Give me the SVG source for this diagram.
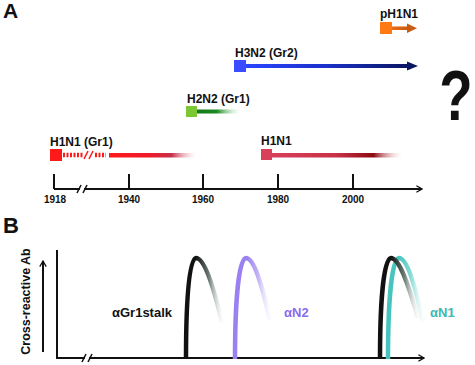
<svg xmlns="http://www.w3.org/2000/svg" width="475" height="365" viewBox="0 0 475 365">
<defs>
<style>
text{font-family:"Liberation Sans",Arial,sans-serif;font-weight:bold;}
.lbl{font-size:12px;fill:#111;}
.yr{font-size:10px;fill:#111;text-anchor:middle;}
.ax{stroke:#111;stroke-width:2;fill:none;}
.brk{stroke:#111;stroke-width:1.5;fill:none;}
.gap{fill:#fff;}
</style>
<marker id="chev" viewBox="0 0 10 10" refX="9" refY="5" markerWidth="8" markerHeight="8" markerUnits="userSpaceOnUse" orient="auto">
<path d="M2,1 L9,5 L2,9" fill="none" stroke="#111" stroke-width="1.6"/>
</marker>
<linearGradient id="gRed" x1="0" y1="0" x2="1" y2="0">
<stop offset="0" stop-color="#ff1a1a"/><stop offset="0.45" stop-color="#f01a2a"/><stop offset="0.72" stop-color="#c8304a"/><stop offset="1" stop-color="#f3b8c8" stop-opacity="0"/>
</linearGradient>
<linearGradient id="gRed2" x1="0" y1="0" x2="1" y2="0">
<stop offset="0" stop-color="#d8405a"/><stop offset="0.5" stop-color="#c83048"/><stop offset="0.78" stop-color="#8b0a10"/><stop offset="1" stop-color="#f3c0c8" stop-opacity="0"/>
</linearGradient>
<linearGradient id="gGreen" x1="0" y1="0" x2="1" y2="0">
<stop offset="0" stop-color="#147814"/><stop offset="0.45" stop-color="#1a8a20"/><stop offset="1" stop-color="#c8f0c8" stop-opacity="0"/>
</linearGradient>
<linearGradient id="gBlue" x1="0" y1="0" x2="1" y2="0">
<stop offset="0" stop-color="#2a44ff"/><stop offset="0.5" stop-color="#1a30c8"/><stop offset="1" stop-color="#0a1660"/>
</linearGradient>
<linearGradient id="gOrange" x1="0" y1="0" x2="1" y2="0">
<stop offset="0" stop-color="#ec6c10"/><stop offset="1" stop-color="#c85a12"/>
</linearGradient>
<linearGradient id="cBlack1" gradientUnits="userSpaceOnUse" x1="196" y1="0" x2="222" y2="0">
<stop offset="0" stop-color="#111"/><stop offset="0.5" stop-color="#6d7c74"/><stop offset="1" stop-color="#e8eee8" stop-opacity="0.2"/>
</linearGradient>
<linearGradient id="cPurple" gradientUnits="userSpaceOnUse" x1="246" y1="0" x2="270" y2="0">
<stop offset="0" stop-color="#9a80f0"/><stop offset="0.5" stop-color="#c2b2f6"/><stop offset="1" stop-color="#f2eefe" stop-opacity="0.2"/>
</linearGradient>
<linearGradient id="cBlack2" gradientUnits="userSpaceOnUse" x1="391" y1="0" x2="418" y2="0">
<stop offset="0" stop-color="#111"/><stop offset="0.5" stop-color="#6d7c74"/><stop offset="1" stop-color="#e8eee8" stop-opacity="0.2"/>
</linearGradient>
<linearGradient id="cTeal" gradientUnits="userSpaceOnUse" x1="399" y1="0" x2="423" y2="0">
<stop offset="0" stop-color="#48c4be"/><stop offset="0.5" stop-color="#8adcd6"/><stop offset="1" stop-color="#e4f8f6" stop-opacity="0.2"/>
</linearGradient>
</defs>
<rect width="475" height="365" fill="#fff"/>

<text x="3" y="18" style="font-size:21px" fill="#111">A</text>
<text x="3" y="233" style="font-size:22px" fill="#111">B</text>

<!-- Panel A axis -->
<g id="timeline-axis">
<line class="ax" x1="54" y1="189" x2="422" y2="189" marker-end="url(#chev)"/>
<line class="ax" x1="54" y1="174" x2="54" y2="189"/>
<line class="ax" x1="129" y1="174" x2="129" y2="189"/>
<line class="ax" x1="203" y1="174" x2="203" y2="189"/>
<line class="ax" x1="278" y1="174" x2="278" y2="189"/>
<line class="ax" x1="353" y1="174" x2="353" y2="189"/>
<rect class="gap" x="80" y="186" width="4" height="6"/>
<line class="brk" x1="77" y1="193" x2="81" y2="185"/>
<line class="brk" x1="83" y1="193" x2="87" y2="185"/>
<text class="yr" x="55" y="203">1918</text>
<text class="yr" x="129" y="203">1940</text>
<text class="yr" x="203" y="203">1960</text>
<text class="yr" x="278" y="203">1980</text>
<text class="yr" x="353" y="203">2000</text>
</g>

<g id="h1n1-gr1">
<text class="lbl" x="50" y="146">H1N1 (Gr1)</text>
<rect x="50" y="149" width="12" height="12" fill="#ff1a1a"/>
<line x1="63" y1="155" x2="83" y2="155" stroke="#ff1a1a" stroke-width="4.5" stroke-dasharray="2 1.5"/>
<line x1="95" y1="155" x2="106" y2="155" stroke="#ff1a1a" stroke-width="4.5" stroke-dasharray="2 1.5"/>
<line x1="84" y1="159" x2="88" y2="151" stroke="#ff1a1a" stroke-width="1.6"/>
<line x1="89" y1="159" x2="93" y2="151" stroke="#ff1a1a" stroke-width="1.6"/>
<rect x="109" y="153" width="87" height="4.5" fill="url(#gRed)"/>
</g>

<g id="h2n2-gr1">
<text class="lbl" x="187" y="103">H2N2 (Gr1)</text>
<rect x="186" y="106" width="11" height="11" fill="#7cc832"/>
<rect x="197" y="109.5" width="44" height="4" fill="url(#gGreen)"/>
</g>

<g id="h3n2-gr2">
<text class="lbl" x="235" y="57">H3N2 (Gr2)</text>
<rect x="234" y="60" width="12" height="12" fill="#3a4cff"/>
<rect x="246" y="64" width="163" height="4" fill="url(#gBlue)"/>
<polygon points="407,61.5 418,66 407,70.5" fill="#0a1660"/>
</g>

<g id="ph1n1">
<text class="lbl" x="380" y="18">pH1N1</text>
<rect x="380" y="22" width="12" height="12" fill="#ff7a12"/>
<rect x="392" y="26.5" width="16" height="3.5" fill="url(#gOrange)"/>
<polygon points="407,23.5 417,28.2 407,33" fill="#c85a12"/>
</g>

<g id="h1n1">
<text class="lbl" x="261" y="145">H1N1</text>
<rect x="261" y="149" width="11" height="11" fill="#d8405a"/>
<rect x="272" y="153" width="130" height="4.5" fill="url(#gRed2)"/>
</g>

<g id="question">
<text x="0" y="120" transform="translate(456,0) scale(0.78,1)" style="font-size:70px" fill="#111" text-anchor="middle">?</text>
</g>

<!-- Panel B -->
<g id="ab-axes">
<line class="ax" x1="57" y1="250" x2="57" y2="358"/>
<line class="ax" x1="56" y1="358" x2="424" y2="358" marker-end="url(#chev)"/>
<rect class="gap" x="85" y="355" width="4" height="6"/>
<line class="brk" x1="82" y1="362" x2="86" y2="354"/>
<line class="brk" x1="88" y1="362" x2="92" y2="354"/>
<line class="ax" x1="43" y1="352" x2="43" y2="261" marker-end="url(#chev)"/>
<text x="0" y="0" transform="translate(30,301.5) rotate(-90)" style="font-size:12.5px" fill="#111" text-anchor="middle">Cross-reactive Ab</text>
</g>

<g id="curve-gr1stalk">
<path d="M186,359 C186,300 189,258 196,258 C204,258 213,285 222,322" fill="none" stroke="url(#cBlack1)" stroke-width="4.5"/>
<text x="112" y="317" style="font-size:13px" fill="#111">αGr1stalk</text>
</g>

<g id="curve-n2">
<path d="M235,359 C235,300 239,258 246,258 C254,258 262,285 270,320" fill="none" stroke="url(#cPurple)" stroke-width="4.5"/>
<text x="284" y="317" style="font-size:13px" fill="#8a6cf0">αN2</text>
</g>

<g id="curve-n1">
<path d="M388,359 C388,300 392,258 399,258 C407,258 415,285 423,322" fill="none" stroke="url(#cTeal)" stroke-width="4.5"/>
<path d="M380,359 C380,300 384,258 391,258 C399,258 408,283 418,318" fill="none" stroke="url(#cBlack2)" stroke-width="4.5"/>
<text x="430" y="317" style="font-size:13px" fill="#3ab8b4">αN1</text>
</g>
</svg>
